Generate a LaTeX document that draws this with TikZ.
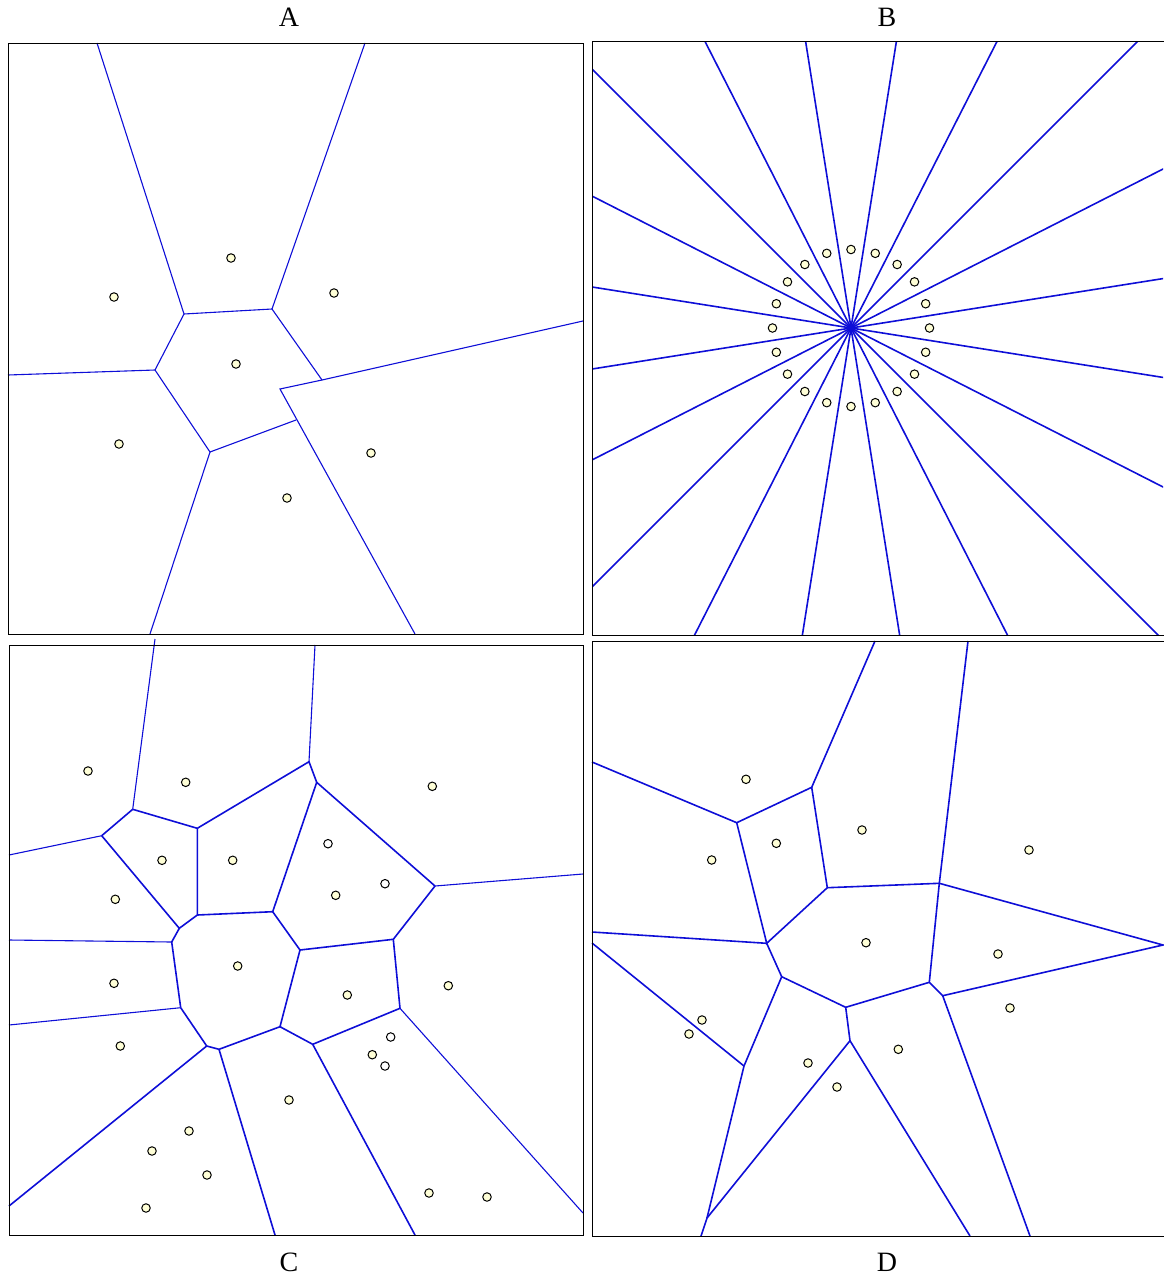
\documentclass[tikz,border=0pt]{standalone}
\usepackage{fontspec}
\setmainfont{Liberation Serif}
\usetikzlibrary{positioning}
\definecolor{edgeblue}{RGB}{14,14,215}
\definecolor{sitefill}{RGB}{255,255,215}
\tikzset{
  frame/.style={draw=black,line width=1pt},
  edge/.style={draw=edgeblue,line width=1.6pt},
  thinedge/.style={draw=edgeblue,line width=1.1pt},
  site/.style={circle,draw=black,fill=sitefill,line width=1pt,inner sep=0pt,minimum size=8.5pt},
  opensite/.style={site,fill=white},
  panellabel/.style={font=\fontsize{28}{30}\selectfont}
}

\begin{document}
\begin{tikzpicture}[x=1pt,y=-1pt]
    \useasboundingbox (0,0) rectangle (1163,1277);

    % Panel A: seven sites
    \begin{scope}
        \draw[thinedge] (97,43) -- (184,314) -- (272,309) -- (365,43);
        \draw[thinedge] (8,375) -- (155,370) -- (184,314);
        \draw[thinedge] (155,370) -- (210,452) -- (150,634);
        \draw[thinedge] (210,452) -- (296,420);
        \draw[thinedge] (272,309) -- (322,380) -- (583,321);
        \draw[thinedge] (322,380) -- (280,389) -- (415,634);
        \draw[frame] (8,43) rectangle (583,634);
        \foreach \p [count=\i] in {(231,258),(114,297),(334,293),(236,364),(119,444),(371,453),(287,498)}
            \node[site] (a\i) at \p {};
        \node[panellabel] (labA) at (289,17) {A};
    \end{scope}

    % Panel B: sites on a circle
    \begin{scope}
        \begin{scope}
            \clip (592,41) rectangle (1163,635);
            \foreach \a in {9,27,...,351}
                \draw[edge] (851,328) -- ++(\a:900);
        \end{scope}
        \draw[frame] (592,41) rectangle (1166,635);
        \foreach \a [count=\i] in {0,18,...,342}
            \node[site] (b\i) at ([shift={(\a:78.5)}]851,328) {};
        \node[panellabel] (labB) at (887,17) {B};
    \end{scope}

    % Panel C: clustered sites
    \begin{scope}
        \draw[thinedge] (155,639) -- (132.7,809.3);
        \draw[thinedge] (309,761.7) -- (315,645);
        \draw[edge] (132.7,809.3) -- (197.3,828.3) -- (309,761.7) -- (316.7,782.3) -- (435,886);
        \draw[thinedge] (435,886) -- (583,874);
        \draw[thinedge] (9,855) -- (101.7,835.7);
        \draw[edge] (101.7,835.7) -- (132.7,809.3);
        \draw[edge] (101.7,835.7) -- (179.3,928.3) -- (197.3,915) -- (197.3,828.3);
        \draw[edge] (197.3,915) -- (272.7,911.7) -- (316.7,782.3);
        \draw[edge] (179.3,928.3) -- (171.7,942);
        \draw[thinedge] (171.7,942) -- (9,940);
        \draw[edge] (171.7,942) -- (180.7,1007.7);
        \draw[thinedge] (180.7,1007.7) -- (9,1025);
        \draw[edge] (272.7,911.7) -- (300,950) -- (393.3,939.3) -- (435,886);
        \draw[edge] (393.3,939.3) -- (400,1008.3) -- (312.7,1044.3) -- (280,1026.7) -- (300,950);
        \draw[thinedge] (400,1008.3) -- (583,1213);
        \draw[edge] (280,1026.7) -- (219,1049.3) -- (206.7,1046) -- (180.7,1007.7);
        \draw[edge] (206.7,1046) -- (9,1206);
        \draw[edge] (219,1049.3) -- (275,1235);
        \draw[edge] (312.7,1044.3) -- (415,1235);
        \draw[frame] (9,645) rectangle (583,1235);
        \foreach \p [count=\i] in {(88,771),(185.7,782.3),(432.3,786.3),(162,860.3),(232.7,860.3),(335.7,895.3),
                                   (115.3,899.3),(237.7,966),(114,983.3),(347.3,995),(448.3,985.7),(120.3,1046),
                                   (372.3,1054.7),(289,1100),(189,1131),(152,1151),(207,1175),(146,1208),
                                   (429,1193),(487,1197)}
            \node[site] (c\i) at \p {};
        \foreach \p [count=\i] in {(328,843.7),(385,883.7),(390.7,1037),(385,1066)}
            \node[opensite] (co\i) at \p {};
        \node[panellabel] (labC) at (289,1262) {C};
    \end{scope}

    % Panel D
    \begin{scope}
        \draw[edge] (875,641) -- (811.7,787.3) -- (736.7,822.7) -- (592,762);
        \draw[edge] (736.7,822.7) -- (766.7,943.3) -- (827.3,887.7) -- (811.7,787.3);
        \draw[edge] (827.3,887.7) -- (939.3,883.3) -- (968,641);
        \draw[edge] (939.3,883.3) -- (1163,945) -- (942.7,995.7) -- (929.3,982.3) -- (939.3,883.3);
        \draw[edge] (592,932) -- (766.7,943.3) -- (781.7,976.7) -- (845.7,1007.3) -- (929.3,982.3);
        \draw[edge] (942.7,995.7) -- (1030,1236);
        \draw[edge] (845.7,1007.3) -- (850,1040.7) -- (970,1236);
        \draw[edge] (850,1040.7) -- (707,1218) -- (701,1236);
        \draw[edge] (781.7,976.7) -- (744,1066) -- (707,1218);
        \draw[edge] (592,943) -- (744,1066);
        \draw[frame] (592,641) rectangle (1166,1236);
        \foreach \p [count=\i] in {(746,779.3),(711.7,860),(776.3,843.3),(862,830),(1029,850),(866,942.7),
                                   (998,954),(1010,1008),(702,1020),(689,1034),(808,1063),(898.3,1049.3),(837,1087)}
            \node[site] (d\i) at \p {};
        \node[panellabel] (labD) at (887,1262) {D};
    \end{scope}
\end{tikzpicture}
\end{document}
